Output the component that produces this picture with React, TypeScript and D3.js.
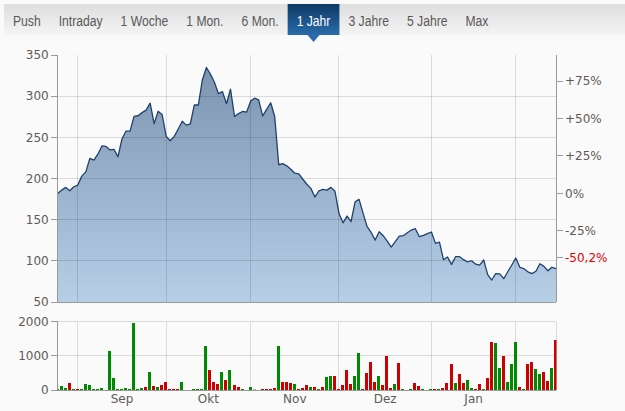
import React, { useEffect, useRef } from "react";
import * as d3 from "d3";

const tabLabels = ["Push", "Intraday", "1 Woche", "1 Mon.", "6 Mon.", "1 Jahr", "3 Jahre", "5 Jahre", "Max"];
const activeTab = "1 Jahr";

const prices = [
  181.9, 185.9, 189.2, 185.1, 190.0, 192.0, 202.9, 208.0, 224.4, 222.3,
  229.5, 239.5, 239.0, 234.8, 235.3, 226.4, 248.0, 257.6, 257.6, 275.4,
  276.2, 280.0, 283.1, 291.5, 266.6, 281.6, 277.4, 251.1, 245.8, 251.1,
  260.2, 269.5, 264.8, 266.2, 289.5, 289.3, 319.7, 334.8, 326.8, 317.0,
  303.0, 305.5, 290.8, 308.5, 275.3, 278.8, 281.4, 280.5, 294.0, 297.5,
  295.5, 276.1, 284.0, 292.0, 275.3, 216.7, 218.0, 215.4, 211.3, 206.4,
  205.6, 199.1, 193.0, 188.0, 177.5, 185.1, 186.7, 185.9, 189.2, 184.5,
  157.6, 146.2, 154.4, 147.5, 171.7, 174.6, 157.6, 141.5, 134.5, 125.2,
  135.3, 130.5, 124.0, 116.7, 123.2, 130.1, 130.5, 134.1, 137.4, 139.0,
  129.3, 131.0, 133.0, 135.0, 121.2, 122.8, 101.4, 104.6, 95.7, 105.0,
  105.0, 101.4, 98.6, 100.1, 95.9, 94.8, 101.0, 83.2, 76.7, 84.4,
  84.2, 78.3, 86.8, 94.9, 103.4, 92.1, 90.5, 86.6, 84.4, 87.3,
  96.5, 93.3, 88.0, 92.1, 90.5,
];

const volumes = [
  30, 120, 60, 210, 30, 30, 30, 180, 150, 30,
  30, 60, 0, 1150, 360, 30, 30, 60, 30, 1950,
  30, 60, 90, 530, 120, 90, 150, 230, 30, 30,
  30, 240, 0, 0, 30, 30, 30, 1290, 590, 240,
  180, 530, 300, 590, 150, 90, 30, 0, 90, 30,
  0, 30, 30, 30, 60, 1290, 240, 240, 210, 180,
  30, 60, 150, 90, 90, 30, 90, 390, 410, 410,
  30, 140, 585, 175, 410, 1090, 30, 507, 825, 234,
  410, 146, 995, 58, 175, 800, 30, 0, 30, 214,
  117, 30, 0, 30, 30, 30, 58, 214, 760, 214,
  468, 214, 292, 58, 30, 175, 30, 351, 1404, 1375,
  643, 995, 234, 760, 1404, 88, 30, 760, 819, 614,
  468, 526, 263, 643, 1463,
];

// u = up (green), d = down (red), n = unchanged (grey)
const volumeDirection = [
  "d", "u", "u", "d", "u", "d", "u", "u", "u", "u",
  "u", "u", "u", "u", "u", "u", "u", "u", "u", "u",
  "u", "u", "d", "u", "d", "u", "d", "d", "d", "d",
  "d", "u", "u", "u", "u", "u", "u", "u", "d", "d",
  "d", "u", "d", "u", "d", "d", "u", "u", "u", "n",
  "u", "d", "d", "d", "d", "u", "d", "d", "d", "u",
  "d", "d", "d", "u", "d", "u", "d", "u", "u", "d",
  "d", "d", "d", "d", "u", "u", "d", "d", "d", "d",
  "u", "d", "d", "d", "u", "d", "u", "u", "u", "d",
  "d", "u", "u", "u", "d", "u", "d", "d", "d", "u",
  "d", "d", "u", "u", "d", "d", "u", "d", "d", "u",
  "u", "d", "u", "u", "u", "d", "u", "d", "d", "u",
  "u", "d", "d", "u", "d",
];

const monthLabels = ["Sep", "Okt", "Nov", "Dez", "Jan"];
const monthStartIndex = [5, 27, 48, 70, 93, 114];
const priceTicks = [50, 100, 150, 200, 250, 300, 350];
const pctTicks = [75, 50, 25, 0, -25];
const lastPctLabel = "-50,2%";
const volumeTicks = [0, 1000, 2000];

const W = 625;
const H = 411;

export default function App() {
  const ref = useRef<SVGSVGElement>(null);

  useEffect(() => {
    const svg = d3.select(ref.current);
    svg.selectAll("*").remove();
    const defs = svg.append("defs");

    svg.append("rect").attr("width", W).attr("height", H).attr("fill", "#fafafa");

    // ---------- tab bar ----------
    const barGrad = defs.append("linearGradient").attr("id", "barGrad").attr("x1", 0).attr("y1", 0).attr("x2", 0).attr("y2", 1);
    barGrad.append("stop").attr("offset", "0%").attr("stop-color", "#dedede");
    barGrad.append("stop").attr("offset", "100%").attr("stop-color", "#f4f4f4");
    const actGrad = defs.append("linearGradient").attr("id", "actGrad").attr("x1", 0).attr("y1", 0).attr("x2", 0).attr("y2", 1);
    actGrad.append("stop").attr("offset", "0%").attr("stop-color", "#0e3966");
    actGrad.append("stop").attr("offset", "100%").attr("stop-color", "#2a6cab");

    const tabTop = 4, tabBottom = 35, tabPad = 9, squeeze = 0.8;
    svg.append("rect").attr("x", 4).attr("y", tabTop).attr("width", W - 4).attr("height", tabBottom - tabTop).attr("fill", "url(#barGrad)");
    const tabs = svg.append("g");
    let cursor = 4;
    tabLabels.forEach((label) => {
      const g = tabs.append("g");
      const t = g.append("text")
        .attr("font-family", "'Liberation Sans', Arial, sans-serif")
        .attr("font-size", 15.2)
        .attr("fill", label === activeTab ? "#ffffff" : "#595959")
        .text(label);
      const w = (t.node() as SVGTextElement).getComputedTextLength() * squeeze;
      t.attr("transform", `translate(${cursor + tabPad},25.5) scale(${squeeze},1)`);
      if (label === activeTab) {
        const bw = w + tabPad * 2;
        g.insert("rect", "text").attr("x", cursor).attr("y", tabTop).attr("width", bw).attr("height", tabBottom - tabTop).attr("fill", "url(#actGrad)");
        const cx = cursor + bw / 2;
        g.insert("path", "text").attr("d", `M${cx - 6},${tabBottom} L${cx + 6},${tabBottom} L${cx},${tabBottom + 7} Z`).attr("fill", "#2a6cab");
      }
      cursor += w + tabPad * 2;
    });

    // ---------- scales ----------
    const left = 57.7, right = 556;
    const N = prices.length;
    const x = d3.scaleLinear().domain([0, N - 1]).range([left, right]);
    const y = d3.scaleLinear().domain([50, 350]).range([302, 55]);
    const yv = d3.scaleLinear().domain([0, 2000]).range([390, 321.7]);
    const base = prices[0];
    const yPct = (p: number) => y(base * (1 + p / 100));

    const font = "'DejaVu Sans', Verdana, sans-serif";
    const labelColor = "#5f5a55";
    const gridColor = "rgba(0,0,0,0.12)";
    const axisColor = "#9a9a9a";

    defs.append("clipPath").attr("id", "plotClip").append("rect").attr("x", left).attr("y", 40).attr("width", right - left + 0.5).attr("height", 360);

    // ---------- price area ----------
    const areaGrad = defs.append("linearGradient").attr("id", "areaGrad").attr("gradientUnits", "userSpaceOnUse")
      .attr("x1", 0).attr("y1", y(350)).attr("x2", 0).attr("y2", y(50));
    areaGrad.append("stop").attr("offset", "0%").attr("stop-color", "#7a91ad");
    areaGrad.append("stop").attr("offset", "100%").attr("stop-color", "#b6cfe7");

    const area = d3.area<number>().x((_, i) => x(i)).y0(y(50)).y1((d) => y(d));
    const line = d3.line<number>().x((_, i) => x(i)).y((d) => y(d));
    svg.append("path").attr("d", area(prices) as string).attr("fill", "url(#areaGrad)");
    svg.append("path").attr("d", line(prices) as string).attr("fill", "none").attr("stroke", "#1f426c").attr("stroke-width", 1.3).attr("stroke-linejoin", "round");

    // ---------- grid ----------
    const grid = svg.append("g").attr("shape-rendering", "crispEdges");
    priceTicks.filter((t) => t > 50 && t < 350).forEach((t) => {
      grid.append("line").attr("x1", left).attr("x2", right).attr("y1", y(t)).attr("y2", y(t)).attr("stroke", gridColor);
    });
    monthStartIndex.forEach((i) => {
      grid.append("line").attr("x1", x(i)).attr("x2", x(i)).attr("y1", y(350)).attr("y2", y(50)).attr("stroke", gridColor);
      grid.append("line").attr("x1", x(i)).attr("x2", x(i)).attr("y1", yv(2000)).attr("y2", yv(0)).attr("stroke", gridColor);
    });
    volumeTicks.filter((t) => t > 0).forEach((t) => {
      grid.append("line").attr("x1", left).attr("x2", right).attr("y1", yv(t)).attr("y2", yv(t)).attr("stroke", gridColor);
    });
    grid.append("line").attr("x1", right).attr("x2", right).attr("y1", yv(2000)).attr("y2", yv(0)).attr("stroke", gridColor);

    // ---------- volume bars ----------
    const colorOf: Record<string, string> = { u: "#008a00", d: "#cc0000", n: "#b0b0b0" };
    svg.append("g").attr("clip-path", "url(#plotClip)").attr("shape-rendering", "crispEdges")
      .selectAll("rect").data(volumes).join("rect")
      .attr("x", (_, i) => Math.round(x(i) - 2))
      .attr("width", 3)
      .attr("y", (d) => yv(d))
      .attr("height", (d) => yv(0) - yv(d))
      .attr("fill", (_, i) => colorOf[volumeDirection[i]]);

    // ---------- axes ----------
    const axes = svg.append("g").attr("shape-rendering", "crispEdges");
    axes.append("line").attr("x1", left).attr("x2", left).attr("y1", y(350)).attr("y2", y(50)).attr("stroke", axisColor);
    axes.append("line").attr("x1", right).attr("x2", right).attr("y1", y(350)).attr("y2", y(50)).attr("stroke", axisColor);
    axes.append("line").attr("x1", left).attr("x2", right).attr("y1", y(50)).attr("y2", y(50)).attr("stroke", axisColor);
    axes.append("line").attr("x1", left).attr("x2", left).attr("y1", yv(2000)).attr("y2", yv(0)).attr("stroke", axisColor);
    axes.append("line").attr("x1", left).attr("x2", right).attr("y1", yv(0)).attr("y2", yv(0)).attr("stroke", axisColor);

    const labels = svg.append("g").attr("font-family", font).attr("font-size", 12).attr("fill", labelColor);
    priceTicks.forEach((t) => {
      axes.append("line").attr("x1", left - 7).attr("x2", left).attr("y1", y(t)).attr("y2", y(t)).attr("stroke", axisColor);
      labels.append("text").attr("x", left - 9).attr("y", y(t)).attr("dy", "0.36em").attr("text-anchor", "end").text(String(t));
    });
    volumeTicks.forEach((t) => {
      axes.append("line").attr("x1", left - 7).attr("x2", left).attr("y1", yv(t)).attr("y2", yv(t)).attr("stroke", axisColor);
      labels.append("text").attr("x", left - 9).attr("y", yv(t)).attr("dy", "0.36em").attr("text-anchor", "end").text(String(t));
    });
    const fmtPct = (p: number) => (p > 0 ? "+" : "") + p + "%";
    pctTicks.forEach((p) => {
      axes.append("line").attr("x1", right).attr("x2", right + 7).attr("y1", yPct(p)).attr("y2", yPct(p)).attr("stroke", axisColor);
      labels.append("text").attr("x", right + 9).attr("y", yPct(p)).attr("dy", "0.36em").text(fmtPct(p));
    });
    const lastPct = (prices[N - 1] / base - 1) * 100;
    const lastY = yPct(lastPct) - 11;
    axes.append("line").attr("x1", right).attr("x2", right + 7).attr("y1", lastY).attr("y2", lastY).attr("stroke", axisColor);
    labels.append("text").attr("x", right + 9).attr("y", lastY).attr("dy", "0.36em").attr("fill", "#e00000").text(lastPctLabel);

    monthLabels.forEach((m, k) => {
      const cx = (x(monthStartIndex[k]) + x(monthStartIndex[k + 1])) / 2;
      labels.append("text").attr("x", cx).attr("y", 403).attr("text-anchor", "middle").text(m);
    });
  }, []);

  return (
    <svg
      ref={ref}
      width={W}
      height={H}
      style={{ position: "absolute", left: 0, top: 0, display: "block" }}
    />
  );
}
